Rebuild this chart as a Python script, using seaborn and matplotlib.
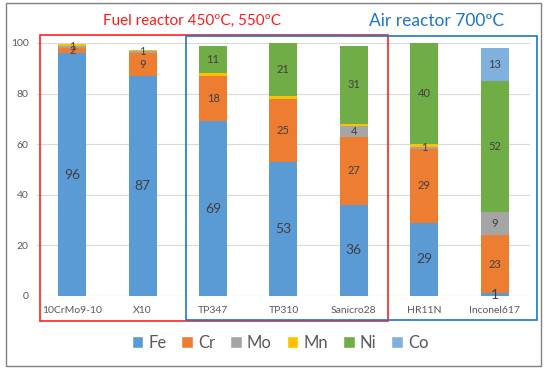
import seaborn as sns
import pandas as pd
import matplotlib.pyplot as plt
from matplotlib.patches import Rectangle, Patch

samples = ['10CrMo9-10', 'X10', 'TP347', 'TP310', 'Sanicro28', 'HR11N', 'Inconel617']
elements = ['Fe', 'Cr', 'Mo', 'Mn', 'Ni', 'Co']
fe = [96, 87, 69, 53, 36, 29, 1]
cr = [2, 9, 18, 25, 27, 29, 23]
mo = [1, 1, 0, 0, 4, 1, 9]
mn = [0.5, 0.4, 1, 1, 1, 1, 0]
ni = [0, 0, 11, 21, 31, 40, 52]
co = [0, 0, 0, 0, 0, 0, 13]
colors = ['#5B9BD5', '#ED7D31', '#A5A5A5', '#FFC000', '#70AD47', '#7FB0DE']

df = pd.DataFrame({'sample': samples, 'Fe': fe, 'Cr': cr, 'Mo': mo,
                   'Mn': mn, 'Ni': ni, 'Co': co})

sns.set_style('white')
plt.rcParams['font.family'] = ['Lato', 'DejaVu Sans']

fig = plt.figure(figsize=(5.5, 3.68), dpi=100)
ax = fig.add_axes([0.0673, 0.1957, 0.896, 0.6875])

bottom = [0.0] * len(samples)
for el, c in zip(elements, colors):
    sns.barplot(data=df, x='sample', y=el, bottom=bottom, color=c, width=0.4,
                ax=ax, saturation=1, linewidth=0, zorder=3)
    for i, v in enumerate(df[el]):
        # Mn gets no label, small slivers neither
        if el != 'Mn' and v >= 1:
            ax.text(i, bottom[i] + v / 2, f'{v:.0f}', ha='center', va='center',
                    color='#404040', fontsize=10 if el == 'Fe' else 8, zorder=5)
    bottom = [b + v for b, v in zip(bottom, df[el])]

ax.set_ylim(0, 100)
ax.set_xlim(-0.5, len(samples) - 0.5)
ax.set_yticks(range(0, 101, 20))
ax.yaxis.grid(True, color='#D9D9D9', lw=0.8, zorder=0)
ax.set_xlabel('')
ax.set_ylabel('')
sns.despine(ax=ax, left=True, top=True, right=True, bottom=True)
ax.axhline(0, color='#D9D9D9', lw=0.8, zorder=1)
ax.tick_params(axis='both', colors='#595959', labelsize=7.5, length=0)
ax.tick_params(axis='x', pad=7)
ax.tick_params(axis='y', pad=6)

handles = [Patch(facecolor=c, label=e) for e, c in zip(elements, colors)]
fig.legend(handles=handles, loc='center', bbox_to_anchor=(0.509, 0.068), ncol=6,
           frameon=False, fontsize=12, handlelength=0.7, handleheight=0.7,
           handletextpad=0.3, columnspacing=0.9, labelcolor='#595959')

fig.text(0.349, 0.943, 'Fuel reactor 450ºC, 550ºC', color='#FF1A1A',
         fontsize=11, ha='center', va='center')
fig.text(0.793, 0.943, 'Air reactor 700ºC', color='#1B75C9',
         fontsize=12.5, ha='center', va='center')

fig.add_artist(Rectangle((0.0727, 0.1277), 0.6328, 0.7772, transform=fig.transFigure,
                         fill=False, edgecolor='#FF2020', lw=1.2, zorder=10))
fig.add_artist(Rectangle((0.338, 0.1304), 0.638, 0.7716, transform=fig.transFigure,
                         fill=False, edgecolor='#1B75C9', lw=1.2, zorder=10))
fig.add_artist(Rectangle((6 / 550, 2 / 368), 535 / 550, 363 / 368, transform=fig.transFigure,
                         fill=False, edgecolor='#808080', lw=1.0, zorder=10))

fig.savefig('out.png', dpi=100)
